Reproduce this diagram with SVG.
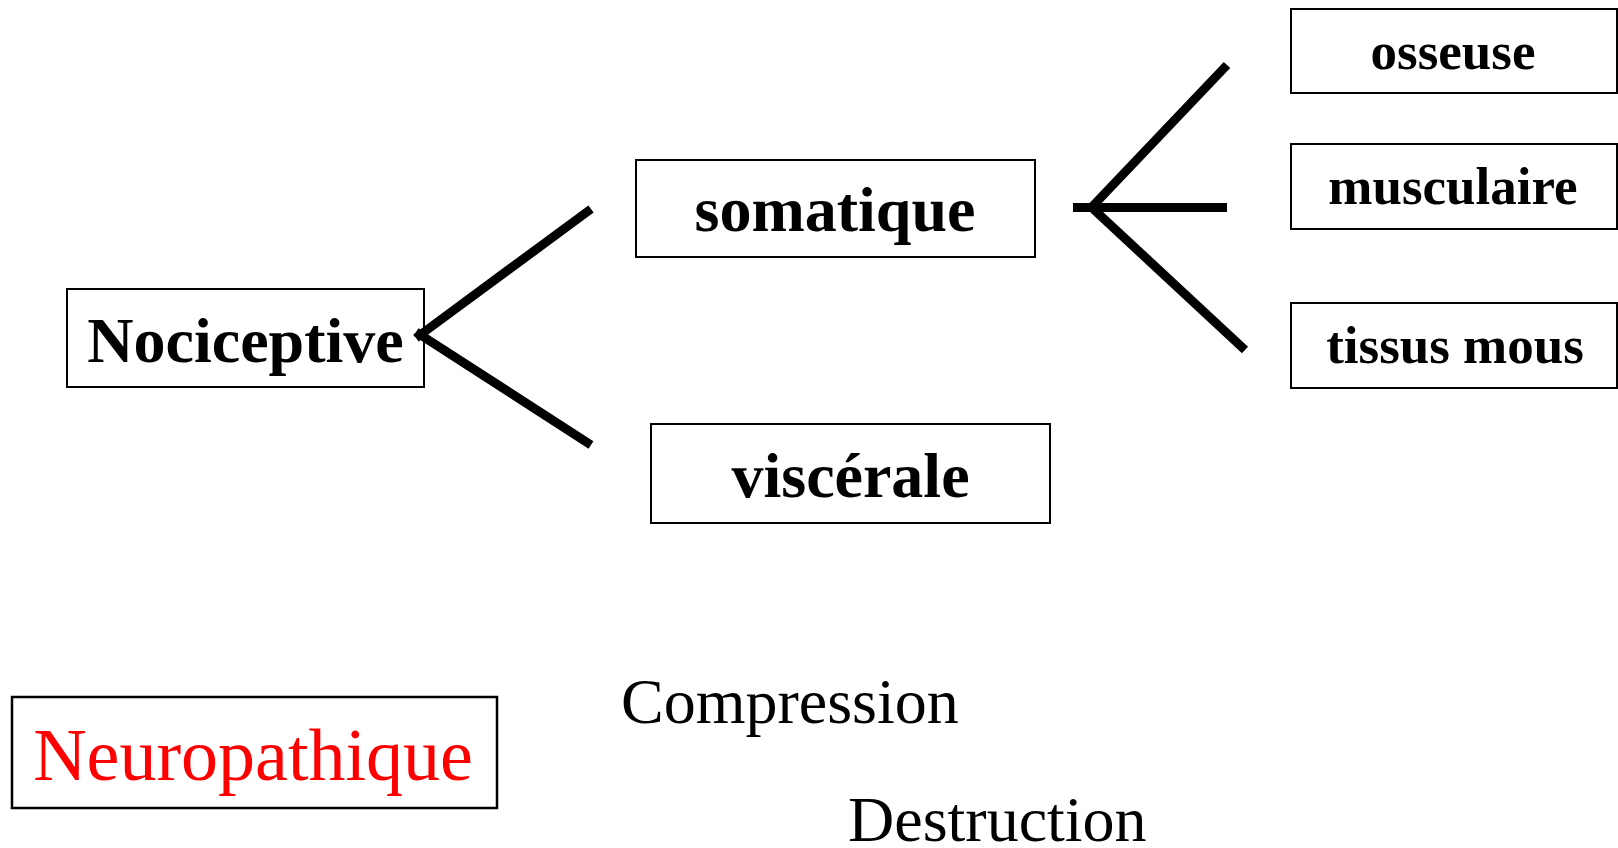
<svg xmlns="http://www.w3.org/2000/svg" width="1618" height="848" viewBox="0 0 1618 848">
<style>
.box{fill:#fff;stroke:#000;stroke-width:2}
.b{font-family:"Liberation Serif","Times New Roman",serif;font-weight:bold;fill:#000;text-anchor:middle}
.r{font-family:"Liberation Serif","Times New Roman",serif;fill:#000}
.c{stroke:#000;stroke-width:9;stroke-linecap:butt;fill:none}
</style>
<rect width="1618" height="848" fill="#fff"/>
<g id="nociceptive">
<rect class="box" x="67" y="289" width="357" height="98"/>
<text class="b" x="245.5" y="362" font-size="64">Nociceptive</text>
</g>
<g id="somatique">
<rect class="box" x="636" y="160" width="399" height="97"/>
<text class="b" x="835" y="231" font-size="64">somatique</text>
</g>
<g id="viscerale">
<rect class="box" x="651" y="424" width="399" height="99"/>
<text class="b" x="850.5" y="497" font-size="64">viscérale</text>
</g>
<g id="osseuse">
<rect class="box" x="1291" y="9" width="326" height="84"/>
<text class="b" x="1453" y="69" font-size="53">osseuse</text>
</g>
<g id="musculaire">
<rect class="box" x="1291" y="144" width="326" height="85"/>
<text class="b" x="1453" y="204" font-size="53">musculaire</text>
</g>
<g id="tissus-mous">
<rect class="box" x="1291" y="303" width="326" height="85"/>
<text class="b" x="1455" y="363" font-size="53">tissus mous</text>
</g>
<g id="neuropathique">
<rect class="box" x="12" y="697" width="485" height="111" style="stroke-width:2.5"/>
<text class="r" x="253" y="780" font-size="74" style="fill:#ff0000;text-anchor:middle">Neuropathique</text>
</g>
<g id="compression">
<text class="r" x="621" y="723" font-size="64">Compression</text>
</g>
<g id="destruction">
<text class="r" x="848" y="841" font-size="64">Destruction</text>
</g>
<g id="connectors">
<line class="c" x1="416" y1="338" x2="591" y2="209"/>
<line class="c" x1="416" y1="332" x2="591" y2="445"/>
<line class="c" x1="1073" y1="207.5" x2="1227" y2="207.5"/>
<line class="c" x1="1089" y1="210" x2="1227" y2="65"/>
<line class="c" x1="1089" y1="205" x2="1245" y2="350"/>
</g>
</svg>
